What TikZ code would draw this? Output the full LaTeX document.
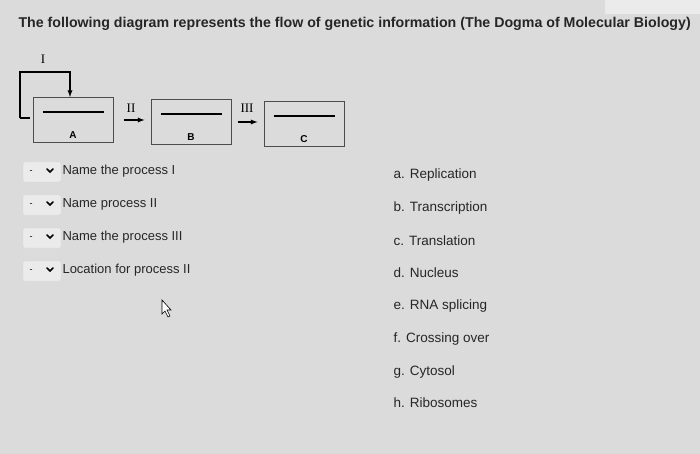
\documentclass[tikz,border=0pt]{standalone}
\usepackage{fontspec}
\setmainfont{Liberation Sans}
\newfontfamily\serifnum{Liberation Serif}
\begin{document}
\begin{tikzpicture}[x=1pt,y=-1pt,
  bx/.style={draw=black!70,line width=1pt,minimum width=80pt,minimum height=45pt,inner sep=0pt},
  q/.style={anchor=west,font=\fontsize{13}{15}\selectfont,text=black!85},
  ans/.style={anchor=west,font=\fontsize{13.5}{15}\selectfont,text=black!85},
  dd/.style={draw=black!15,rounded corners=2pt,minimum width=38pt,minimum height=20pt,fill=black!8},
  rn/.style={font=\fontsize{13}{15}\selectfont\serifnum},
  ar/.style={-latex,line width=1.3pt}]
\useasboundingbox (0,0) rectangle (700,454);
\fill[black!14] (0,0) rectangle (700,454);
\fill[white!92!black] (605,-1) rectangle (701,14);
\node[anchor=west,font=\bfseries\fontsize{14.2}{16}\selectfont,text=black!85] (t) at (15,24) {The following diagram represents the flow of genetic information (The Dogma of Molecular Biology)};
\node[bx] (A) at (73,120) {};
\node[bx] (B) at (191,122) {};
\node[bx] (C) at (304,124) {};
\foreach \n in {A,B,C}{\draw[line width=1.3pt] ([xshift=10pt,yshift=8pt]\n.west) -- ([xshift=-10pt,yshift=8pt]\n.east);}
\foreach \n in {A,B,C}{\node[font=\bfseries\fontsize{10}{11}\selectfont] (l\n) at ([yshift=8pt]\n.south) {\n};}
\draw[line width=1.3pt] (20,118) -- (30,118);
\draw[line width=1.3pt,-latex] (20,118) -- (20,72) -| (70,97);
\node[rn] (i1) at (43,59) {I};
\draw[ar] ([xshift=10pt]A.east) -- ([xshift=-6pt]B.west|-A.east);
\node[rn] (i2) at (131,108) {II};
\draw[ar] ([xshift=6pt]B.east) -- ([xshift=-6pt]C.west|-B.east);
\node[rn] (i3) at (247,108) {III};
\foreach \y/\t [count=\i] in {172/Name the process I,205/Name process II,238/Name the process III,271/Location for process II}{
  \node[dd] (d\i) at (42,\y) {};
  \node[font=\small] at (31,\y) {-};
  \draw[line width=1.6pt,line cap=round] (47,\y-3) -- (50,\y) -- (53,\y-3);
  \node[q] (q\i) at (59,\y-1) {\t};}
\foreach \y/\t [count=\i] in {175/a. Replication,208/b. Transcription,241/c. Translation,273/d. Nucleus,306/e. RNA splicing,339/f. Crossing over,372/g. Cytosol,403/h. Ribosomes}{
  \node[ans] (r\i) at (390,\y) {\t};}
\draw[fill=white,line width=0.6pt] (162,300) -- (162,314) -- (165,311) -- (168,317) -- (170,316) -- (167,310) -- (171,310) -- cycle;
\end{tikzpicture}
\end{document}
